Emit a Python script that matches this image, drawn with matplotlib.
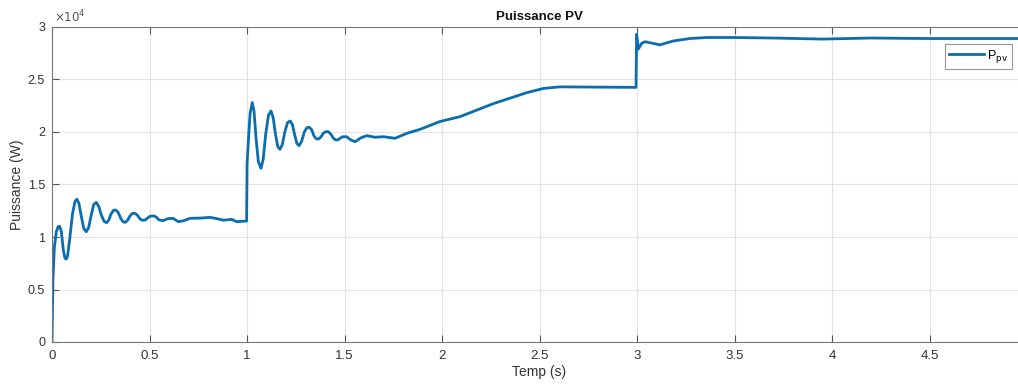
import matplotlib
matplotlib.use("Agg")
import matplotlib.pyplot as plt

plt.rcParams['font.family'] = ['Liberation Sans', 'DejaVu Sans']

# Time (s)
t = [0, 0.005, 0.012, 0.022, 0.032, 0.040, 0.048, 0.058, 0.066, 0.073, 0.080,
     0.092, 0.105, 0.118, 0.128, 0.138, 0.150, 0.163, 0.176, 0.188, 0.200,
     0.214, 0.227, 0.240, 0.253, 0.267, 0.279, 0.291, 0.303, 0.316, 0.327,
     0.339, 0.352, 0.364, 0.376, 0.388, 0.400, 0.412, 0.424, 0.437, 0.450,
     0.462, 0.475, 0.487, 0.500, 0.511, 0.523, 0.535, 0.547, 0.569, 0.595,
     0.62, 0.648, 0.675, 0.708, 0.76, 0.81, 0.845, 0.879, 0.921, 0.947, 0.998,
     1.0005, 1.008, 1.016, 1.027, 1.036, 1.046, 1.058, 1.072, 1.083, 1.096,
     1.110, 1.123, 1.134, 1.146, 1.158, 1.169, 1.181, 1.194, 1.208, 1.221,
     1.233, 1.245, 1.256, 1.267, 1.280, 1.294, 1.307, 1.32, 1.332, 1.344,
     1.355, 1.366, 1.378, 1.392, 1.404, 1.417, 1.430, 1.443, 1.455, 1.465,
     1.49, 1.511, 1.532, 1.554, 1.585, 1.614, 1.656, 1.70, 1.759, 1.819,
     1.887, 1.99, 2.092, 2.263, 2.434, 2.52, 2.605, 2.776, 2.995, 2.998, 3.007,
     3.024, 3.041, 3.08, 3.118, 3.186, 3.27, 3.357, 3.49, 3.7, 3.95, 4.2, 4.5,
     5.0]
# PV power (x1e4 W)
p_pv = [0, 0.6, 0.9, 1.05, 1.10, 1.10, 1.05, 0.88, 0.80, 0.79, 0.82,
        1.00, 1.22, 1.34, 1.36, 1.32, 1.20, 1.08, 1.05, 1.09, 1.20,
        1.31, 1.33, 1.29, 1.21, 1.15, 1.136, 1.16, 1.22, 1.255, 1.257,
        1.235, 1.18, 1.145, 1.14, 1.16, 1.20, 1.225, 1.226, 1.21, 1.175,
        1.16, 1.16, 1.175, 1.195, 1.20, 1.20, 1.19, 1.165, 1.155, 1.175,
        1.178, 1.146, 1.155, 1.178, 1.18, 1.187, 1.175, 1.16, 1.168, 1.146, 1.152,
        1.70, 1.95, 2.18, 2.28, 2.20, 1.95, 1.72, 1.654, 1.74, 1.98,
        2.16, 2.20, 2.14, 1.98, 1.86, 1.835, 1.88, 2.00, 2.09, 2.105,
        2.07, 1.97, 1.89, 1.87, 1.91, 2.00, 2.04, 2.045, 2.02, 1.96,
        1.935, 1.933, 1.95, 1.99, 2.003, 2.003, 1.98, 1.94, 1.925, 1.924,
        1.955, 1.955, 1.925, 1.908, 1.945, 1.965, 1.95, 1.955, 1.94, 1.987,
        2.025, 2.10, 2.146, 2.27, 2.374, 2.415, 2.43, 2.428, 2.425, 2.93, 2.79,
        2.845, 2.86, 2.845, 2.83, 2.867, 2.89, 2.90, 2.90, 2.895, 2.885, 2.895, 2.89,
        2.89]

xticks = [0, 0.5, 1, 1.5, 2, 2.5, 3, 3.5, 4, 4.5]
xticklabels = ['0', '0.5', '1', '1.5', '2', '2.5', '3', '3.5', '4', '4.5']
yticks = [0, 0.5, 1, 1.5, 2, 2.5, 3]
yticklabels = ['0', '0.5', '1', '1.5', '2', '2.5', '3']

W, H = 1018, 385
fig = plt.figure(figsize=(W / 100, H / 100), dpi=100)
ax = fig.add_axes([52 / W, (H - 342) / H, 975 / W, 315 / H])

ax.plot(t, p_pv, color='#0A6DB0', linewidth=2.0, label=r'P$_{\mathrm{pv}}$',
        solid_joinstyle='round')
ax.set_xlim(0, 5)
ax.set_ylim(0, 3)
ax.set_xticks(xticks)
ax.set_xticklabels(xticklabels)
ax.set_yticks(yticks)
ax.set_yticklabels(yticklabels)
ax.grid(True, color='#e3e3e3', linewidth=0.8)
ax.set_axisbelow(True)
ax.tick_params(direction='in', length=5, width=0.8, colors='#555555',
               labelcolor='#333333', labelsize=9.5, top=True, right=True, pad=6)
ax.tick_params(axis='y', labelsize=9, pad=5)
for s in ax.spines.values():
    s.set_color('#777777')
    s.set_linewidth(0.8)

ax.set_xlabel('Temp (s)', fontsize=10, color='#333333', labelpad=2)
ax.set_ylabel('Puissance (W)', fontsize=10, color='#333333', labelpad=3)
ax.set_title('Puissance PV', fontsize=9.5, fontweight='bold', color='#111111', pad=5)
fig.text(54 / W, 1 - 17 / H, r'$\times 10^4$', fontsize=8.5, color='#555555',
         ha='left', va='center')

leg = ax.legend(loc='upper right', bbox_to_anchor=(1012 / W, 1 - 44 / H),
                bbox_transform=fig.transFigure, fancybox=False, framealpha=1,
                edgecolor='#999999', fontsize=9, handlelength=2.8,
                borderpad=0.3, handletextpad=0.3, borderaxespad=0)
leg.get_frame().set_linewidth(0.8)

fig.savefig('out.png', dpi=100)
